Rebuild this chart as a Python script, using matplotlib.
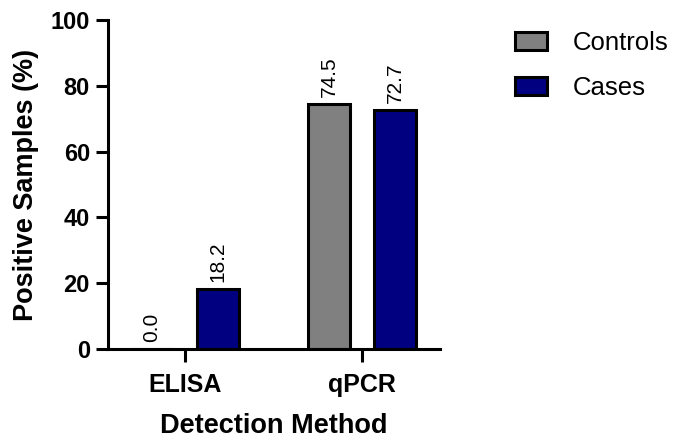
import matplotlib
matplotlib.use("Agg")
import matplotlib.pyplot as plt
import numpy as np

plt.rcParams['font.family'] = ['Liberation Sans', 'DejaVu Sans']

methods = ["ELISA", "qPCR"]
series_names = ["Controls", "Cases"]
controls = [0.0, 74.5]
cases = [18.2, 72.7]
colors = ["#808080", "#000080"]
yticks = [0, 20, 40, 60, 80, 100]

fig = plt.figure(figsize=(6.79, 4.43), dpi=100)
ax = fig.add_axes([108/679, 94/443, (440-108)/679, (349-20)/443])

x = np.arange(len(methods))
width = 0.237
offset = 0.186
for vals, name, col, sgn in [(controls, series_names[0], colors[0], -1),
                              (cases, series_names[1], colors[1], 1)]:
    bars = ax.bar(x + sgn*offset, vals, width, color=col, edgecolor='black',
                  linewidth=2.2, label=name)
    for b, v in zip(bars, vals):
        ax.annotate(f"{v:.1f}", (b.get_x() + b.get_width()/2, v),
                    xytext=(0, 5), textcoords='offset points',
                    ha='center', va='bottom', rotation=90, fontsize=15)

ax.set_xlim(-0.435, 1.44)
ax.set_ylim(0, 100)
ax.set_yticks(yticks)
ax.set_xticks(x)
ax.set_xticklabels(methods, fontsize=18, fontweight='bold')
ax.tick_params(axis='y', labelsize=17, width=2.2, length=9, pad=4)
ax.tick_params(axis='x', width=2.2, length=9, pad=8)
for lab in ax.get_yticklabels():
    lab.set_fontweight('bold')
for s in ['top', 'right']:
    ax.spines[s].set_visible(False)
for s in ['left', 'bottom']:
    ax.spines[s].set_linewidth(2.2)
ax.set_ylabel("Positive Samples (%)", fontsize=19.5, fontweight='bold', labelpad=8)
ax.set_xlabel("Detection Method", fontsize=19.5, fontweight='bold', labelpad=12)

fig.legend(loc='upper left', bbox_to_anchor=(515/679, 1 - 31/443), frameon=False,
           fontsize=18.5, handlelength=1.25, handleheight=0.66, labelspacing=0.82,
           handletextpad=1.0, borderpad=0, borderaxespad=0)

fig.savefig("out.png", dpi=100)
